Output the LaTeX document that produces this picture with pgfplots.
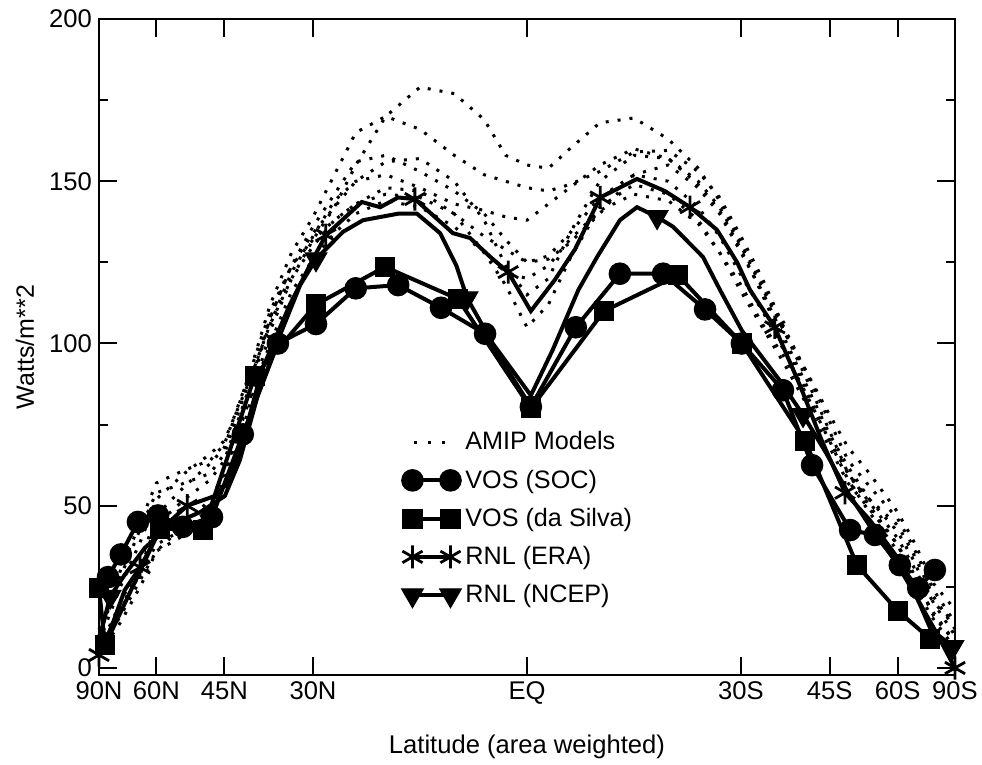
\documentclass[border=0pt]{standalone}
\usepackage{fontspec}
\setmainfont{Liberation Sans}
\usepackage{pgfplots}
\usepackage{pgfplotstable}
\pgfplotsset{compat=1.18}

% AMIP model curves (x = -sin(lat) for N, sin(lat) for S)
\pgfplotstableread{
s      a     b     c    d    e    f    g    h
-1      8     6     5   10    4    7   12    5
-0.95  25    20    18   28   14   18   30   16
-0.9   40    34    32   44   26   30   46   28
-0.866 52    47    44   54   36   38   57   36
-0.8   60    56    52   57   41   43   61   44
-0.74  66    63    58   60   46   49   64   52
-0.707 70    68    64   66   55   58   69   60
-0.65  88    90    86   88   80   84   90   82
-0.6   106   112   108  106  104  108  110  100
-0.55  120   128   124  122  120  124  124  116
-0.5   132   139   136  133  130  132  134  126
-0.45  142   152   146  144  138  138  142  134
-0.4   155   165   156  150  143  143  150  140
-0.33  170   170   158  152  146  148  156  144
-0.25  179   166   153  148  145  147  157  142
-0.17  177   158   147  143  140  140  150  136
-0.1   169   152   140  141  133  128  138  128
-0.05  158   150   132  139  129  118  124  122
0      155   148   125  138  125  105  115  120
0.05   154   147   126  143  127  112  120  124
0.1    160   149   131  148  134  126  134  132
0.17   168   153   140  155  145  142  150  141
0.25   169.5 159   152  160  152  149  158  146
0.33   163   159.5 155  157  150  146  157  144
0.4    154   153   148  149  142  138  150  137
0.45   144   145   140  141  133  128  142  128
0.5    131   133   128  129  121  116  130  118
0.55   118   120   116  115  110  105  117  106
0.6    104   105   102  100  98   94   104  96
0.65   90    92    88   86   85   82   92   84
0.707  73    76    72   70   70   68   78   70
0.75   60    64    62   60   58   57   68   60
0.8    51    56    52   50   48   49   60   52
0.866  40    46    42   38   36   38   48   44
0.9    32    38    34   30   26   28   40   36
0.95   20    24    20   16   15   17   26   22
1      14    14    10   8    6    8    18   12
}\amip

\pgfplotstableread{
s v
-0.979 28
-0.949 35
-0.909 45
-0.862 47
-0.804 43.5
-0.736 46.5
-0.664 72
-0.582 100
-0.493 106
-0.400 117
-0.301 118
-0.201 111
-0.098 103
0.009 80.5
0.114 105
0.217 121.5
0.318 121.5
0.416 110.5
0.502 100
0.598 85.6
0.666 62.5
0.755 42.5
0.813 41
0.871 31.7
0.914 24.6
0.953 30.2
}\soc

\pgfplotstableread{
s v
-1 24.6
-0.986 7
-0.857 43
-0.757 42.5
-0.636 90
-0.493 112
-0.332 123.6
-0.161 113.7
0.009 80
0.180 110
0.353 121
0.502 100
0.650 70
0.771 31.7
0.867 17.5
0.942 9
}\silva

\pgfplotstableread{
s v
-1 4
-0.97 13
-0.94 24
-0.904 31
-0.857 42.5
-0.794 50
-0.729 53
-0.694 58
-0.664 70
-0.619 92
-0.554 112
-0.5 126
-0.47 133.4
-0.386 143.6
-0.343 142
-0.301 145
-0.262 144.5
-0.173 134
-0.133 132.5
-0.086 126.7
-0.044 122
0.009 110
0.065 119.6
0.112 129
0.171 145
0.257 150.7
0.322 147
0.381 142
0.444 135
0.491 125
0.521 116.5
0.579 105
0.638 87
0.689 70
0.743 54
0.801 45.6
0.860 35
0.907 22.5
0.953 11.7
1.0 0
}\era

\pgfplotstableread{
s v
-1 8.6
-0.974 22
-0.94 28.7
-0.893 37
-0.834 44
-0.764 48
-0.706 53
-0.671 64
-0.629 84
-0.577 102.6
-0.530 118
-0.493 126
-0.430 134.4
-0.383 138
-0.301 140
-0.257 140
-0.203 134
-0.165 124
-0.14 114
-0.08 100
0.009 84
0.06 98
0.12 116.5
0.164 126.7
0.217 138
0.257 142
0.304 139
0.341 136
0.411 126.7
0.451 116.5
0.502 104
0.590 88.7
0.645 78
0.70 66
0.75 54
0.80 44
0.86 33
0.91 22
0.943 12
0.995 6.5
}\ncep

\begin{document}
\begin{tikzpicture}
\begin{axis}[
  name=ax,
  scale only axis, width=428pt, height=328pt,
  xmin=-1, xmax=1, ymin=-2.16, ymax=200,
  xtick={-1,-0.866,-0.7071,-0.5,0,0.5,0.7071,0.866,1},
  xticklabels={90N,60N,45N,30N,EQ,30S,45S,60S,90S},
  ytick={0,50,100,150,200},
  minor ytick={25,75,125,175},
  tick align=inside,
  major tick length=9pt, minor tick length=4.5pt,
  every tick/.style={black, line width=1pt},
  axis line style={line width=1pt},
  xticklabel style={font=\fontsize{12.8}{15}\selectfont},
  yticklabel style={font=\fontsize{12.8}{15}\selectfont},
  /pgf/number format/assume math mode=true,
  xlabel={Latitude (area weighted)},
  ylabel={Watts/m**2},
  every axis x label/.style={at={(axis description cs:0.5,-0.11)}, anchor=center,
    font=\fontsize{12.8}{15}\selectfont},
  every axis y label/.style={at={(axis description cs:-0.0865,0.5)}, rotate=90, anchor=center,
    font=\fontsize{12.5}{15}\selectfont},
  clip=false,
  legend cell align=left,
  legend style={draw=none, fill=none, at={(rel axis cs:0.346,0.384)}, anchor=north west,
    font=\fontsize{12.6}{15}\selectfont, row sep=4.5pt,
    /tikz/every even column/.append style={column sep=5pt}},
  amip/.style={black, line width=1.5pt, dash pattern=on 1.5pt off 4.5pt,
    legend image code/.code={\draw[##1, dash pattern=on 1.5pt off 5.5pt] (1pt,0pt) -- (18pt,0pt);}},
  mline/.style={black, line width=2pt, mark options={solid, line width=0.5pt},
    legend image code/.code={\draw[##1, mark indices={1,2}] plot coordinates {(0pt,0pt) (19pt,0pt)};}},
]
\addplot[amip] table[x=s, y=a] {\amip};
\addlegendentry{AMIP Models}
\addplot[amip, forget plot] table[x=s, y=b] {\amip};
\addplot[amip, forget plot] table[x=s, y=c] {\amip};
\addplot[amip, forget plot] table[x=s, y=d] {\amip};
\addplot[amip, forget plot] table[x=s, y=e] {\amip};
\addplot[amip, forget plot] table[x=s, y=f] {\amip};
\addplot[amip, forget plot] table[x=s, y=g] {\amip};
\addplot[amip, forget plot] table[x=s, y=h] {\amip};

\addplot[mline, mark=*, mark size=5.4pt] table[x=s, y=v] {\soc};
\addlegendentry{VOS (SOC)}
\addplot[mline, mark=square*, mark size=4.8pt] table[x=s, y=v] {\silva};
\addlegendentry{VOS (da Silva)}
\addplot[mline, mark=asterisk, mark size=5.8pt, mark options={solid, line width=1.4pt},
  mark indices={1,4,6,13,17,21,25,28,32,35,40}] table[x=s, y=v] {\era};
\addlegendentry{RNL (ERA)}
\addplot[mline, mark=triangle*, mark size=6.3pt, mark options={solid, rotate=180, line width=0.5pt},
  mark indices={2,12,19,27,33,40}] table[x=s, y=v] {\ncep};
\addlegendentry{RNL (NCEP)}
\end{axis}
\pgfresetboundingbox
\path ([shift={(-49.5pt,-45pt)}]ax.south west) rectangle ([shift={(13.5pt,9.5pt)}]ax.north east);
\end{tikzpicture}
\end{document}
